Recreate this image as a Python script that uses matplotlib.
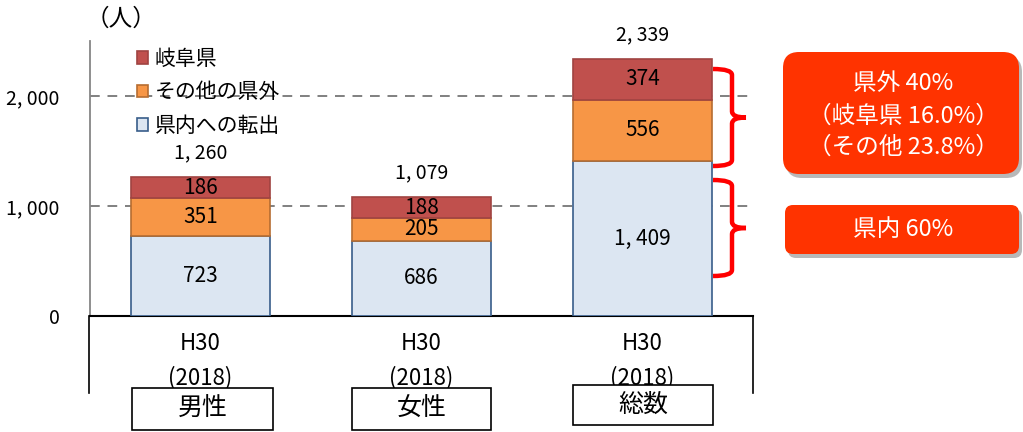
import matplotlib
matplotlib.use("Agg")
import matplotlib.pyplot as plt
from matplotlib.patches import FancyBboxPatch, Rectangle, PathPatch
from matplotlib.path import Path
from matplotlib.lines import Line2D

# ---------------- data ----------------
categories = ["H30\n(2018)", "H30\n(2018)", "H30\n(2018)"]
group_labels = ["男性", "女性", "総数"]
series_names = ["県内への転出", "その他の県外", "岐阜県"]
kennai = [723, 686, 1409]
sonota = [351, 205, 556]
gifu = [186, 188, 374]
totals = [1260, 1079, 2339]
yticks = [0, 1000, 2000]
unit_label = "（人）"
callout1_lines = ["県外 40%", "（岐阜県 16.0%）", "（その他 23.8%）"]
callout2_lines = ["県内 60%"]

# ---------------- fonts ----------------
CJK = "Noto Sans CJK JP"
plt.rcParams["font.family"] = [CJK, "DejaVu Sans"]


def fmt(v):
    return f"{v:,}".replace(",", ", ")


fill_colors = ["#DCE6F2", "#F79646", "#C0504D"]
edge_colors = ["#385D8A", "#B66D31", "#A04341"]

W, H = 1023, 432
fig = plt.figure(figsize=(W / 100, H / 100), dpi=100)
ax = fig.add_axes([90 / W, 1 - 316 / H, (753 - 90) / W, (316 - 41) / H])

x = list(range(len(categories)))
bw = 0.625
series = [kennai, sonota, gifu]
bottoms = [0] * len(x)
for vals, fc, ec, name in zip(series, fill_colors, edge_colors, series_names):
    ax.bar(x, vals, bw, bottom=bottoms, color=fc, edgecolor=ec,
           linewidth=1.2, label=name, zorder=3)
    for xi, b, v in zip(x, bottoms, vals):
        ax.text(xi, b + v / 2, fmt(v), ha="center", va="center",
                fontsize=15, zorder=4)
    bottoms = [b + v for b, v in zip(bottoms, vals)]

for xi, t in zip(x, totals):
    ax.annotate(fmt(t), (xi, t), xytext=(0, 10),
                textcoords="offset points", ha="center", va="bottom",
                fontsize=14)

ax.set_xlim(-0.5, len(x) - 0.5)
ax.set_ylim(0, 2500)
ax.set_yticks(yticks)
ax.set_yticklabels([fmt(v) for v in yticks], fontsize=14)
ax.tick_params(axis="y", length=0, pad=22)
ax.set_xticks([])
for yv in yticks[1:]:
    ax.axhline(yv, color="#808080", linestyle=(0, (5, 4)), linewidth=1.4, zorder=1)

for s in ["top", "right"]:
    ax.spines[s].set_visible(False)
ax.spines["left"].set_color("#868686")
ax.spines["left"].set_linewidth(1.3)
ax.spines["bottom"].set_color("#000000")
ax.spines["bottom"].set_linewidth(1.5)

# category labels
for xi, c in zip(x, categories):
    l1, l2 = c.split("\n")
    ax.text(xi, -0.1, l1, transform=ax.get_xaxis_transform(), ha="center", va="center",
            fontsize=16)
    ax.text(xi, -0.225, l2, transform=ax.get_xaxis_transform(), ha="center", va="center",
            fontsize=16)

# legend
handles, labels = ax.get_legend_handles_labels()
ax.legend(handles[::-1], labels[::-1], loc="upper left",
          bbox_to_anchor=(137 / W, 1 - 48 / H), bbox_transform=fig.transFigure,
          frameon=False, fontsize=15, handlelength=0.55, handleheight=0.55,
          handletextpad=0.3, labelspacing=0.55, borderpad=0, borderaxespad=0)

# ---------------- overlay ----------------
ov = fig.add_axes([0, 0, 1, 1])
ov.set_xlim(0, W)
ov.set_ylim(H, 0)
ov.axis("off")
ov.patch.set_visible(False)

ov.text(121, 19, unit_label, ha="center", va="center", fontsize=17)

# frame lines under axis
for xx in (89, 753):
    ov.add_line(Line2D([xx, xx], [316, 393], color="black", linewidth=1.2))

# group boxes
box_x = [(132, 273), (352, 491), (573, 713)]
box_y = [(388, 430), (388, 430), (385, 425)]
for (x0, x1), (y0, y1), g in zip(box_x, box_y, group_labels):
    ov.add_patch(Rectangle((x0, y0), x1 - x0, y1 - y0, facecolor="white",
                           edgecolor="black", linewidth=1.2))
    ov.text((x0 + x1) / 2, (y0 + y1) / 2, g, ha="center", va="center", fontsize=18)


def brace(x0, xv, xt, ytop, ybot):
    ym = (ytop + ybot) / 2
    r = 6
    verts = [(x0, ytop), (xv, ytop), (xv, ytop + r), (xv, ytop + r),
             (xv, ym - r), (xv, ym), (xt, ym), (xt, ym),
             (xv, ym), (xv, ym + r), (xv, ym + r),
             (xv, ybot - r), (xv, ybot), (x0, ybot)]
    codes = [Path.MOVETO, Path.CURVE3, Path.CURVE3, Path.LINETO,
             Path.LINETO, Path.CURVE3, Path.CURVE3, Path.MOVETO,
             Path.CURVE3, Path.CURVE3, Path.LINETO,
             Path.LINETO, Path.CURVE3, Path.CURVE3]
    ov.add_patch(PathPatch(Path(verts, codes), fill=False, edgecolor="#FF0000",
                           linewidth=3.2, capstyle="butt", joinstyle="round"))


brace(713, 732, 746, 69, 166)
brace(713, 732, 746, 180, 276)


def callout(x0, y0, x1, y1, rad, lines, ys, fs):
    ov.add_patch(FancyBboxPatch((x0 + 3, y0 + 4), x1 - x0, y1 - y0,
                                boxstyle=f"round,pad=0,rounding_size={rad}",
                                facecolor="#7F7F7F", edgecolor="none", alpha=0.55))
    ov.add_patch(FancyBboxPatch((x0, y0), x1 - x0, y1 - y0,
                                boxstyle=f"round,pad=0,rounding_size={rad}",
                                facecolor="#FF3300", edgecolor="none"))
    for ln, yy in zip(lines, ys):
        ov.text(903, yy, ln, ha="center", va="center",
                fontsize=fs, color="white")


callout(783, 52, 1019, 174, 16, callout1_lines, [84, 116, 147], 17)
callout(785, 205, 1019, 254, 8, callout2_lines, [230], 17)

fig.savefig("out.png", dpi=100)
